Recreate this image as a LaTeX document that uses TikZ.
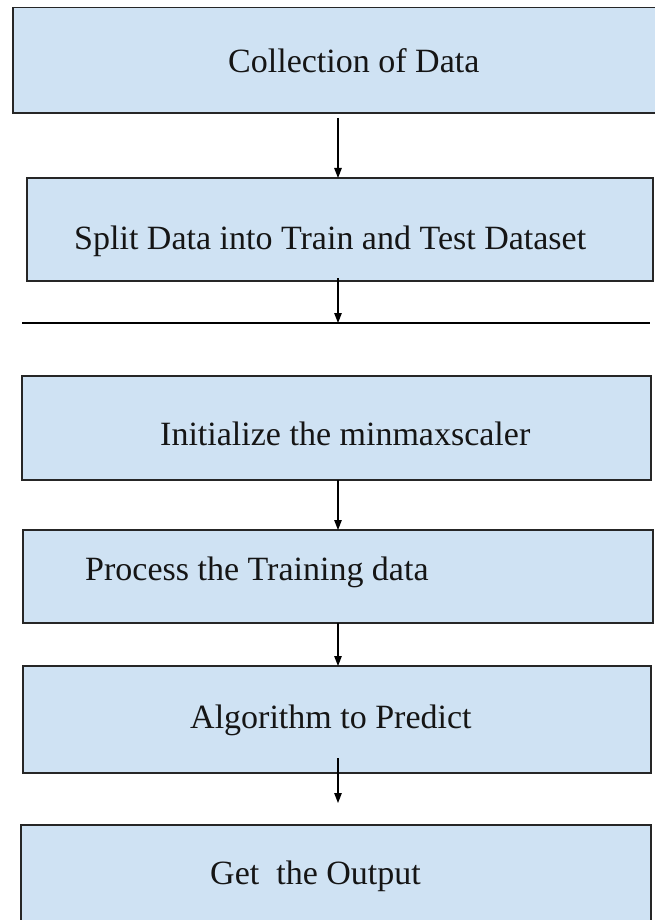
\documentclass[tikz,border=0pt]{standalone}
\usepackage{fontspec}
\setmainfont{Liberation Serif}
\usetikzlibrary{arrows.meta}
\definecolor{boxfill}{HTML}{CFE2F3}
\definecolor{boxline}{HTML}{262626}
\definecolor{ink}{HTML}{151515}
\begin{document}
\begin{tikzpicture}[x=1pt,y=-1pt,
  stepbox/.style={draw=boxline, line width=1.7pt, fill=boxfill, rectangle,
    inner sep=0pt, outer sep=0pt, anchor=north west},
  steptext/.style={anchor=base west, inner sep=0pt, text=ink,
    font=\fontsize{34}{40}\selectfont},
  arr/.style={line width=1.2pt, draw=black,
    -{Triangle[length=10pt,width=7.5pt]}}]
\useasboundingbox (0,0) rectangle (654,920);

% process boxes
\node[stepbox, minimum width=643.3pt, minimum height=105.5pt] (b1) at (12.7,7.5) {};
\node[stepbox, minimum width=626pt,   minimum height=103pt]   (b2) at (27,178) {};
\node[stepbox, minimum width=629pt,   minimum height=104pt]   (b3) at (22,376) {};
\node[stepbox, minimum width=630.3pt, minimum height=93pt]    (b4) at (22.7,530) {};
\node[stepbox, minimum width=628.3pt, minimum height=107pt]   (b5) at (22.7,666) {};
\node[stepbox, minimum width=630.3pt, minimum height=110pt]   (b6) at (20.7,825) {};

% box captions
\node[steptext] (t1) at (228,73)  {Collection of Data};
\node[steptext] (t2) at (74,249)  {Split Data into Train and Test Dataset};
\node[steptext] (t3) at (160,445) {Initialize the minmaxscaler};
\node[steptext] (t4) at (85,580)  {Process the Training data};
\node[steptext] (t5) at (190,728) {Algorithm to Predict};
\node[steptext] (t6) at (210,884) {Get\ \ the Output};

% separator rule
\coordinate (barL) at (22,323);
\coordinate (barR) at (650,323);
\draw[line width=1.4pt, draw=black] (barL) -- (barR);

% connectors
\coordinate (ax) at (338,0);
\coordinate (s1) at (338,118);
\coordinate (s2) at (338,278);
\coordinate (s5) at (338,758);
\coordinate (e5) at (338,803);
\draw[arr] (s1) -- (b2.north -| ax);
\draw[arr] (s2) -- (barL -| ax);
\draw[arr] (b3.south -| ax) -- (b4.north -| ax);
\draw[arr] (b4.south -| ax) -- (b5.north -| ax);
\draw[arr] (s5) -- (e5);
\end{tikzpicture}
\end{document}
